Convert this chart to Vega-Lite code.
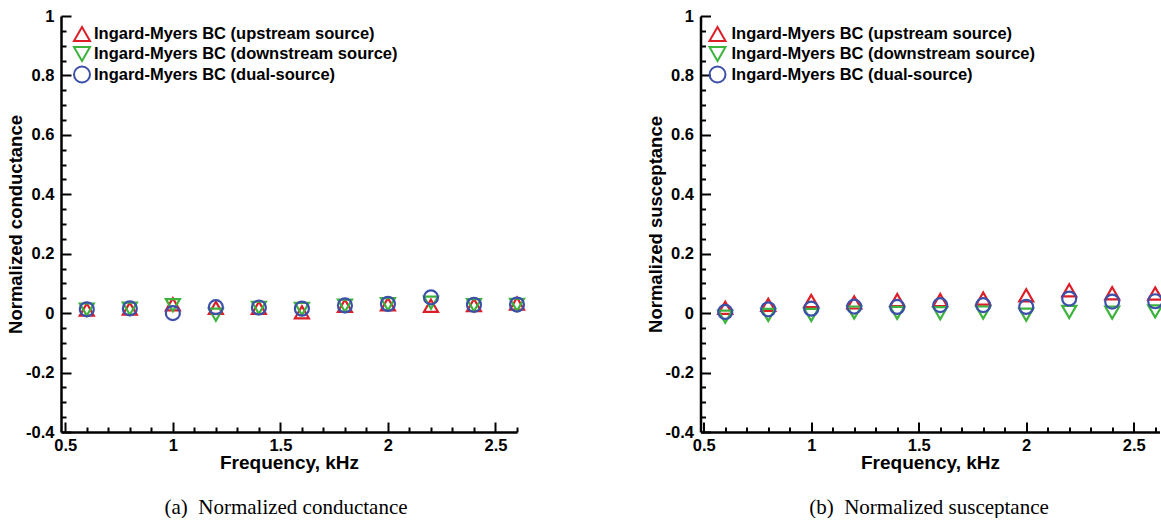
{
  "$schema": "https://vega.github.io/schema/vega-lite/v6.json",
  "background": "white",
  "padding": {"left": 6, "top": 8, "right": 0, "bottom": 0},
  "bounds": "flush",
  "spacing": 183.5,
  "datasets": {
    "conductance": [
      {"f": 0.6, "s": "Ingard-Myers BC (upstream source)", "v": 0.012},
      {"f": 0.8, "s": "Ingard-Myers BC (upstream source)", "v": 0.015},
      {"f": 1.0, "s": "Ingard-Myers BC (upstream source)", "v": 0.03},
      {"f": 1.2, "s": "Ingard-Myers BC (upstream source)", "v": 0.018},
      {"f": 1.4, "s": "Ingard-Myers BC (upstream source)", "v": 0.018},
      {"f": 1.6, "s": "Ingard-Myers BC (upstream source)", "v": 0.003},
      {"f": 1.8, "s": "Ingard-Myers BC (upstream source)", "v": 0.025},
      {"f": 2.0, "s": "Ingard-Myers BC (upstream source)", "v": 0.03},
      {"f": 2.2, "s": "Ingard-Myers BC (upstream source)", "v": 0.025},
      {"f": 2.4, "s": "Ingard-Myers BC (upstream source)", "v": 0.027},
      {"f": 2.6, "s": "Ingard-Myers BC (upstream source)", "v": 0.032},
      {"f": 0.6, "s": "Ingard-Myers BC (downstream source)", "v": 0.012},
      {"f": 0.8, "s": "Ingard-Myers BC (downstream source)", "v": 0.015},
      {"f": 1.0, "s": "Ingard-Myers BC (downstream source)", "v": 0.027},
      {"f": 1.2, "s": "Ingard-Myers BC (downstream source)", "v": -0.005},
      {"f": 1.4, "s": "Ingard-Myers BC (downstream source)", "v": 0.018},
      {"f": 1.6, "s": "Ingard-Myers BC (downstream source)", "v": 0.014},
      {"f": 1.8, "s": "Ingard-Myers BC (downstream source)", "v": 0.025},
      {"f": 2.0, "s": "Ingard-Myers BC (downstream source)", "v": 0.03},
      {"f": 2.2, "s": "Ingard-Myers BC (downstream source)", "v": 0.035},
      {"f": 2.4, "s": "Ingard-Myers BC (downstream source)", "v": 0.027},
      {"f": 2.6, "s": "Ingard-Myers BC (downstream source)", "v": 0.028},
      {"f": 0.6, "s": "Ingard-Myers BC (dual-source)", "v": 0.013},
      {"f": 0.8, "s": "Ingard-Myers BC (dual-source)", "v": 0.016},
      {"f": 1.0, "s": "Ingard-Myers BC (dual-source)", "v": 0.0},
      {"f": 1.2, "s": "Ingard-Myers BC (dual-source)", "v": 0.02},
      {"f": 1.4, "s": "Ingard-Myers BC (dual-source)", "v": 0.019},
      {"f": 1.6, "s": "Ingard-Myers BC (dual-source)", "v": 0.015},
      {"f": 1.8, "s": "Ingard-Myers BC (dual-source)", "v": 0.026},
      {"f": 2.0, "s": "Ingard-Myers BC (dual-source)", "v": 0.031},
      {"f": 2.2, "s": "Ingard-Myers BC (dual-source)", "v": 0.053},
      {"f": 2.4, "s": "Ingard-Myers BC (dual-source)", "v": 0.028},
      {"f": 2.6, "s": "Ingard-Myers BC (dual-source)", "v": 0.029}
    ],
    "susceptance": [
      {"f": 0.6, "s": "Ingard-Myers BC (upstream source)", "v": 0.018},
      {"f": 0.8, "s": "Ingard-Myers BC (upstream source)", "v": 0.028},
      {"f": 1.0, "s": "Ingard-Myers BC (upstream source)", "v": 0.041},
      {"f": 1.2, "s": "Ingard-Myers BC (upstream source)", "v": 0.036},
      {"f": 1.4, "s": "Ingard-Myers BC (upstream source)", "v": 0.044},
      {"f": 1.6, "s": "Ingard-Myers BC (upstream source)", "v": 0.044},
      {"f": 1.8, "s": "Ingard-Myers BC (upstream source)", "v": 0.049},
      {"f": 2.0, "s": "Ingard-Myers BC (upstream source)", "v": 0.06},
      {"f": 2.2, "s": "Ingard-Myers BC (upstream source)", "v": 0.077},
      {"f": 2.4, "s": "Ingard-Myers BC (upstream source)", "v": 0.067},
      {"f": 2.6, "s": "Ingard-Myers BC (upstream source)", "v": 0.066},
      {"f": 0.6, "s": "Ingard-Myers BC (downstream source)", "v": -0.012},
      {"f": 0.8, "s": "Ingard-Myers BC (downstream source)", "v": -0.006},
      {"f": 1.0, "s": "Ingard-Myers BC (downstream source)", "v": -0.006},
      {"f": 1.2, "s": "Ingard-Myers BC (downstream source)", "v": 0.002},
      {"f": 1.4, "s": "Ingard-Myers BC (downstream source)", "v": 0.001},
      {"f": 1.6, "s": "Ingard-Myers BC (downstream source)", "v": 0.0},
      {"f": 1.8, "s": "Ingard-Myers BC (downstream source)", "v": 0.002},
      {"f": 2.0, "s": "Ingard-Myers BC (downstream source)", "v": -0.005},
      {"f": 2.2, "s": "Ingard-Myers BC (downstream source)", "v": 0.004},
      {"f": 2.4, "s": "Ingard-Myers BC (downstream source)", "v": 0.002},
      {"f": 2.6, "s": "Ingard-Myers BC (downstream source)", "v": 0.006},
      {"f": 0.6, "s": "Ingard-Myers BC (dual-source)", "v": 0.004},
      {"f": 0.8, "s": "Ingard-Myers BC (dual-source)", "v": 0.013},
      {"f": 1.0, "s": "Ingard-Myers BC (dual-source)", "v": 0.015},
      {"f": 1.2, "s": "Ingard-Myers BC (dual-source)", "v": 0.022},
      {"f": 1.4, "s": "Ingard-Myers BC (dual-source)", "v": 0.021},
      {"f": 1.6, "s": "Ingard-Myers BC (dual-source)", "v": 0.027},
      {"f": 1.8, "s": "Ingard-Myers BC (dual-source)", "v": 0.027},
      {"f": 2.0, "s": "Ingard-Myers BC (dual-source)", "v": 0.021},
      {"f": 2.2, "s": "Ingard-Myers BC (dual-source)", "v": 0.049},
      {"f": 2.4, "s": "Ingard-Myers BC (dual-source)", "v": 0.039},
      {"f": 2.6, "s": "Ingard-Myers BC (dual-source)", "v": 0.04}
    ]
  },
  "hconcat": [
    {
      "width": 456,
      "height": 416,
      "data": {"name": "conductance"},
      "title": {"text": "(a)\u00a0 Normalized conductance", "orient": "bottom", "anchor": "middle", "font": "Liberation Serif", "fontSize": 21, "fontWeight": "normal", "color": "black", "offset": 24, "dx": -3},
      "mark": {"type": "point", "filled": false, "size": 196, "strokeWidth": 2.2, "opacity": 1, "clip": false},
      "encoding": {
        "x": {"field": "f", "type": "quantitative",
          "scale": {"domain": [0.48, 2.6], "nice": false, "zero": false},
          "axis": {"title": "Frequency, kHz",
            "values": [0.5,0.6,0.7,0.8,0.9,1,1.1,1.2,1.3,1.4,1.5,1.6,1.7,1.8,1.9,2,2.1,2.2,2.3,2.4,2.5,2.6],
            "labelExpr": "abs(datum.value*2 - round(datum.value*2)) < 0.001 ? toString(round(datum.value*10)/10) : ''",
            "tickSize": {"condition": {"test": "abs(datum.value*2 - round(datum.value*2)) < 0.001", "value": -10}, "value": -5},
            "labelPadding": 15}},
        "y": {"field": "v", "type": "quantitative",
          "scale": {"domain": [-0.4, 1], "nice": false, "zero": false},
          "axis": {"title": "Normalized conductance",
            "values": [-0.4,-0.35,-0.3,-0.25,-0.2,-0.15,-0.1,-0.05,0,0.05,0.1,0.15,0.2,0.25,0.3,0.35,0.4,0.45,0.5,0.55,0.6,0.65,0.7,0.75,0.8,0.85,0.9,0.95,1],
            "labelExpr": "abs(datum.value*5 - round(datum.value*5)) < 0.001 ? toString(round(datum.value*10)/10) : ''",
            "tickSize": {"condition": {"test": "abs(datum.value*5 - round(datum.value*5)) < 0.001", "value": -10}, "value": -5},
            "labelPadding": 17}},
        "color": {"field": "s", "type": "nominal",
          "scale": {"domain": ["Ingard-Myers BC (upstream source)", "Ingard-Myers BC (downstream source)", "Ingard-Myers BC (dual-source)"], "range": ["#dc1e28", "#3cb33c", "#3c50aa"]},
          "legend": {"orient": "none", "legendX": 12, "legendY": 9, "title": null, "padding": 0, "labelOffset": 3}},
        "shape": {"field": "s", "type": "nominal",
          "scale": {"domain": ["Ingard-Myers BC (upstream source)", "Ingard-Myers BC (downstream source)", "Ingard-Myers BC (dual-source)"], "range": ["triangle-up", "triangle-down", "circle"]},
          "legend": {"orient": "none", "legendX": 12, "legendY": 9, "title": null, "padding": 0, "labelOffset": 3}}
      }
    },
    {
      "width": 459,
      "height": 416,
      "data": {"name": "susceptance"},
      "title": {"text": "(b)\u00a0 Normalized susceptance", "orient": "bottom", "anchor": "middle", "font": "Liberation Serif", "fontSize": 21, "fontWeight": "normal", "color": "black", "offset": 24, "dx": -1},
      "mark": {"type": "point", "filled": false, "size": 196, "strokeWidth": 2.2, "opacity": 1, "clip": false},
      "encoding": {
        "x": {"field": "f", "type": "quantitative",
          "scale": {"domain": [0.485, 2.62], "nice": false, "zero": false},
          "axis": {"title": "Frequency, kHz",
            "values": [0.5,0.6,0.7,0.8,0.9,1,1.1,1.2,1.3,1.4,1.5,1.6,1.7,1.8,1.9,2,2.1,2.2,2.3,2.4,2.5,2.6],
            "labelExpr": "abs(datum.value*2 - round(datum.value*2)) < 0.001 ? toString(round(datum.value*10)/10) : ''",
            "tickSize": {"condition": {"test": "abs(datum.value*2 - round(datum.value*2)) < 0.001", "value": -10}, "value": -5},
            "labelPadding": 15}},
        "y": {"field": "v", "type": "quantitative",
          "scale": {"domain": [-0.4, 1], "nice": false, "zero": false},
          "axis": {"title": "Normalized susceptance",
            "values": [-0.4,-0.35,-0.3,-0.25,-0.2,-0.15,-0.1,-0.05,0,0.05,0.1,0.15,0.2,0.25,0.3,0.35,0.4,0.45,0.5,0.55,0.6,0.65,0.7,0.75,0.8,0.85,0.9,0.95,1],
            "labelExpr": "abs(datum.value*5 - round(datum.value*5)) < 0.001 ? toString(round(datum.value*10)/10) : ''",
            "tickSize": {"condition": {"test": "abs(datum.value*5 - round(datum.value*5)) < 0.001", "value": -10}, "value": -5},
            "labelPadding": 17}},
        "color": {"field": "s", "type": "nominal",
          "scale": {"domain": ["Ingard-Myers BC (upstream source)", "Ingard-Myers BC (downstream source)", "Ingard-Myers BC (dual-source)"], "range": ["#dc1e28", "#3cb33c", "#3c50aa"]},
          "legend": {"orient": "none", "legendX": 8, "legendY": 9, "title": null, "padding": 0, "labelOffset": 5}},
        "shape": {"field": "s", "type": "nominal",
          "scale": {"domain": ["Ingard-Myers BC (upstream source)", "Ingard-Myers BC (downstream source)", "Ingard-Myers BC (dual-source)"], "range": ["triangle-up", "triangle-down", "circle"]},
          "legend": {"orient": "none", "legendX": 8, "legendY": 9, "title": null, "padding": 0, "labelOffset": 5}}
      }
    }
  ],
  "resolve": {"scale": {"color": "independent", "shape": "independent", "x": "independent", "y": "independent"}},
  "config": {
    "view": {"stroke": null},
    "axis": {
      "grid": false,
      "domainColor": "black", "domainWidth": 2.5,
      "tickColor": "black", "tickWidth": 2,
      "labelFont": "Liberation Sans", "labelFontWeight": "bold", "labelFontSize": 16.5, "labelColor": "black",
      "labelFlush": false, "labelOverlap": false, "labelBound": false,
      "titleFont": "Liberation Sans", "titleFontWeight": "bold", "titleColor": "black"
    },
    "axisX": {"titleFontSize": 19, "titlePadding": -5},
    "axisY": {"titleFontSize": 18.5, "titlePadding": 0},
    "legend": {
      "labelFont": "Liberation Sans", "labelFontWeight": "bold", "labelFontSize": 16.5, "labelColor": "black",
      "symbolSize": 256, "symbolStrokeWidth": 2, "rowPadding": -2.5, "labelLimit": 400
    }
  }
}
